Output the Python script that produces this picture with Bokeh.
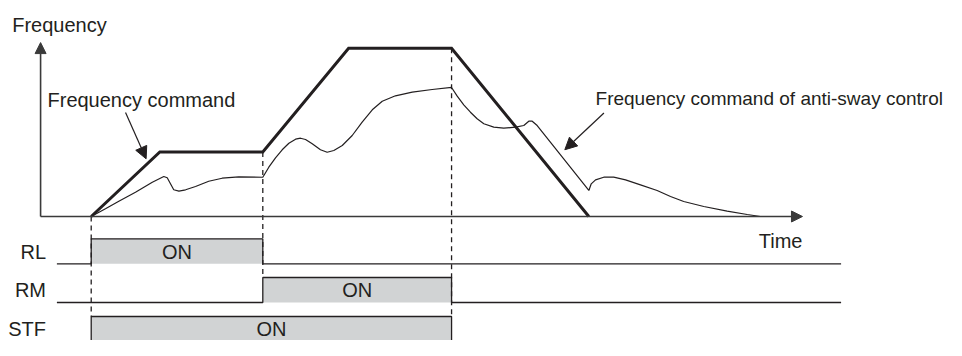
import numpy as np
from bokeh.plotting import figure
from bokeh.models import Range1d, Arrow, NormalHead
from bokeh.core.properties import value
from bokeh.embed import file_html
from bokeh.resources import INLINE

# ---------------- data ----------------
# Frequency command (time in s, frequency in Hz)
command_t = [0, 4, 10, 15, 21, 29]
command_f = [0, 23, 23, 60, 60, 0]

# Frequency command of anti-sway control
sway_t = [0, 0.83, 1.61, 2.58, 3.56, 4.23, 4.43, 4.62, 4.81, 5.11, 5.50, 6.08, 6.85, 7.63, 8.60, 10.0,
          10.35, 10.74, 11.13, 11.52, 11.91, 12.20, 12.49, 12.88, 13.36, 13.75, 14.14, 14.63, 15.21,
          15.79, 16.38, 16.96, 17.73, 18.71, 19.87, 21.0,
          21.33, 21.71, 22.10, 22.49, 22.88, 23.46, 24.04, 24.73, 25.21, 25.50, 25.70, 25.99, 29.0,
          29.14, 29.39, 29.87, 30.45, 31.14, 32.01, 32.98, 33.76, 34.53, 35.70, 37.06, 38.23, 39.0]
sway_f = [0, 2.75, 5.45, 8.66, 12.23, 14.26, 13.80, 11.66, 9.52, 9.02, 9.52, 10.70, 12.58, 13.65, 14.15, 14.0,
          17.58, 20.93, 23.78, 26.13, 27.56, 27.91, 27.45, 25.92, 23.78, 22.92, 23.53, 25.31, 28.88,
          33.62, 38.04, 41.11, 43.03, 44.31, 45.28, 46.0,
          42.89, 39.82, 37.18, 34.83, 33.05, 31.84, 31.48, 31.84, 32.44, 33.98, 33.98, 32.44, 9.27,
          11.65, 13.07, 14.01, 14.01, 13.07, 11.29, 9.27, 7.13, 5.35, 3.57, 1.89, 0.71, 0]

# Input signals
signal_names = ["RL", "RM", "STF"]
signal_on_start = [0, 10, 0]
signal_on_end = [10, 21, 21]
on_label = "ON"

# texts
y_title = "Frequency"
x_title = "Time"
cmd_label = "Frequency command"
sway_label = "Frequency command of anti-sway control"

# ---------------- layout / style ----------------
INK = "#231f20"
AXIS = "#3a3a3a"
GRAY = "#d1d3d4"
FONT = value("Liberation Sans")
FS = "20px"
TS = 2.2                                # baseline correction for rendered text

row_high = [-7.95, -21.75, -35.65]     # y position of signal rows (high level)
row_h = 8.91                            # height of the ON level
label_drop = 6.77                       # text baseline below high level
line_x0, line_x1 = -2.0, 43.7           # extent of signal lines
axis_x = -2.95
axis_x_end = 41.45
axis_y_end = 62.0

p = figure(width=946, height=340,
           x_range=Range1d(-5.286, 49.843), y_range=Range1d(-44.207, 77.005),
           x_axis_type=None, y_axis_type=None, toolbar_location=None,
           output_backend="svg", min_border=0, outline_line_color=None)
p.background_fill_color = "white"
p.border_fill_color = "white"

# signal ON fills
row_low = [h - row_h for h in row_high]
row_label_base = [h - label_drop + TS for h in row_high]
p.quad(left=signal_on_start, right=signal_on_end, bottom=row_low, top=row_high,
       fill_color=GRAY, line_color=None)

# dashed event lines
events = sorted(set(signal_on_start + signal_on_end))
ev_top, ev_bot = [], []
for t in events:
    ev_top.append(float(np.interp(t, command_t, command_f)))
    rows = [i for i in range(len(signal_names)) if signal_on_start[i] == t or signal_on_end[i] == t]
    ev_bot.append(row_high[max(rows)])
p.segment(x0=events, y0=ev_top, x1=events, y1=ev_bot, line_color=INK,
          line_width=1.3, line_dash="5 4")

# signal step lines
xs, ys = [], []
for i in range(len(signal_names)):
    s, e, hi, lo = signal_on_start[i], signal_on_end[i], row_high[i], row_low[i]
    xs.append([line_x0, s, s, e, e, line_x1])
    ys.append([lo, lo, hi, hi, lo, lo])
p.multi_line(xs=xs, ys=ys, line_color=INK, line_width=1.3)

# axes with arrows
p.add_layout(Arrow(end=NormalHead(size=11, fill_color=AXIS, line_color=AXIS),
                   x_start=axis_x, y_start=0, x_end=axis_x_end, y_end=0,
                   line_color=AXIS, line_width=1.6))
p.add_layout(Arrow(end=NormalHead(size=11, fill_color=AXIS, line_color=AXIS),
                   x_start=axis_x, y_start=0, x_end=axis_x, y_end=axis_y_end,
                   line_color=AXIS, line_width=1.6))

# curves
p.line(sway_t, sway_f, line_color=INK, line_width=1.2)
p.line(command_t, command_f, line_color=INK, line_width=3, line_join="miter")

# callout arrows
p.add_layout(Arrow(end=NormalHead(size=12, fill_color=INK, line_color=INK),
                   x_start=2.0, y_start=37.08, x_end=3.2, y_end=20.57,
                   line_color=INK, line_width=1.2))
p.add_layout(Arrow(end=NormalHead(size=12, fill_color=INK, line_color=INK),
                   x_start=29.88, y_start=36.9, x_end=27.6, y_end=23.8,
                   line_color=INK, line_width=1.2))

# texts
p.text(x=[-4.604, -2.547, 38.9], y=[66.06 + TS, 39.22 + TS, -10.94 + TS],
       text=[y_title, cmd_label, x_title],
       text_font=FONT, text_font_size=FS, text_color=INK,
       text_baseline="alphabetic", text_align="left")
p.text(x=[29.39], y=[39.82 + TS], text=[sway_label],
       text_font=FONT, text_font_size="19px", text_color=INK,
       text_baseline="alphabetic", text_align="left")
p.text(x=[-2.634] * len(signal_names), y=row_label_base, text=signal_names,
       text_font=FONT, text_font_size=FS, text_color=INK,
       text_baseline="alphabetic", text_align="right")
p.text(x=[(s + e) / 2 for s, e in zip(signal_on_start, signal_on_end)], y=row_label_base,
       text=[on_label] * len(signal_names),
       text_font=FONT, text_font_size=FS, text_color=INK,
       text_baseline="alphabetic", text_align="center")

open("out.html", "w").write(file_html(p, INLINE))
